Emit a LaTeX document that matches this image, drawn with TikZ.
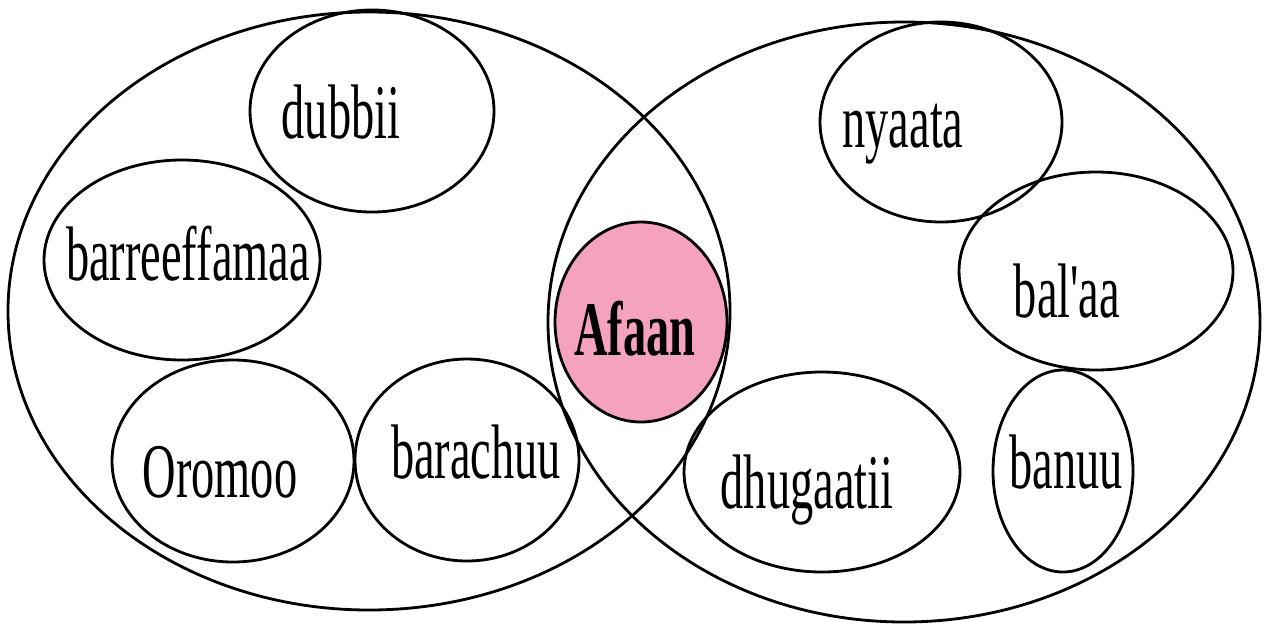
\documentclass[tikz,border=0pt]{standalone}
\usepackage{fontspec}
\setmainfont{Liberation Serif}
\usepackage{xcolor}
\usepackage{tikz}
\usetikzlibrary{positioning,calc}
\definecolor{afaanpink}{RGB}{245,162,190}
\newcommand{\squeezed}[1]{\scalebox{0.6}[1]{#1}}
\tikzset{
  bubble/.style={draw=black, line width=1.6pt},
  word/.style={anchor=base, inner sep=0pt, font=\fontsize{44}{48}\selectfont}
}

\begin{document}
\begin{tikzpicture}[x=0.02cm, y=-0.02cm]
    \useasboundingbox (0,0) rectangle (1273,626);

    % Two big sets
    \draw[bubble] (369,311) ellipse [x radius=361, y radius=299];
    \draw[bubble] (904,322) ellipse [x radius=356, y radius=300];

    % Left set members
    \draw[bubble] (372,111) ellipse [x radius=122, y radius=101];
    \draw[bubble] (182,260) ellipse [x radius=138, y radius=100];
    \draw[bubble] (233,461) ellipse [x radius=121, y radius=101];
    \draw[bubble] (467,460) ellipse [x radius=112, y radius=101];

    % Right set members
    \draw[bubble] (941,122) ellipse [x radius=121, y radius=100];
    \draw[bubble] (1096,271) ellipse [x radius=137, y radius=99];
    \draw[bubble] (822,472) ellipse [x radius=138, y radius=100];
    \draw[bubble] (1063,471) ellipse [x radius=70, y radius=101];

    % Shared word in the middle
    \filldraw[bubble, fill=afaanpink] (641,322) ellipse [x radius=86, y radius=100];

    % Labels
    \node[word] (dubbii) at (341,138) {\squeezed{dubbii}};
    \node[word] (barreeffamaa) at (188,280) {\squeezed{barreeffamaa}};
    \node[word] (oromoo) at (220,497) {\squeezed{Oromoo}};
    \node[word] (barachuu) at (476,478) {\squeezed{barachuu}};
    \node[word] (afaan) at (635,355) {\squeezed{\bfseries Afaan}};
    \node[word] (nyaata) at (903,147) {\squeezed{nyaata}};
    \node[word] (balaa) at (1067,317) {\squeezed{bal\textquotesingle aa}};
    \node[word] (dhugaatii) at (807,508) {\squeezed{dhugaatii}};
    \node[word] (banuu) at (1066,488) {\squeezed{banuu}};
\end{tikzpicture}
\end{document}
